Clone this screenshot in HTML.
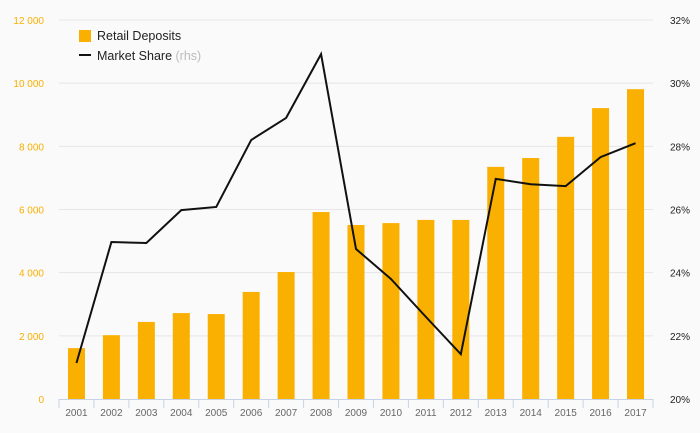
<!DOCTYPE html>
<html><head><meta charset="utf-8"><style>
body{margin:0;background:#fafafa;font-family:"Liberation Sans",sans-serif}
svg{display:block}
</style></head><body>
<svg id="c" width="700" height="433"></svg>
<script>
const years=["2001","2002","2003","2004","2005","2006","2007","2008","2009","2010","2011","2012","2013","2014","2015","2016","2017"];
const deposits=[1610,2020,2440,2720,2690,3390,4020,5920,5510,5570,5670,5670,7350,7630,8300,9210,9810];
const share=[21.14,24.97,24.94,25.98,26.08,28.2,28.9,30.92,24.75,23.8,22.6,21.42,26.97,26.8,26.74,27.66,28.1];
const leftTicks=[0,2000,4000,6000,8000,10000,12000];
const rightTicks=[20,22,24,26,28,30,32];
const NS="http://www.w3.org/2000/svg",svg=document.getElementById('c');
const x0=59,x1=653,yB=399,yT=20,bw=(x1-x0)/years.length;
const yL=v=>yB-(v/12000)*(yB-yT), yR=v=>yB-((v-20)/12)*(yB-yT), xC=i=>x0+bw*(i+0.5);
function mk(t,a,txt){const e=document.createElementNS(NS,t);for(const k in a)e.setAttribute(k,a[k]);if(txt!=null)e.textContent=txt;svg.appendChild(e);return e;}
const fmt=v=>v>=1000?Math.floor(v/1000)+" "+String(v%1000).padStart(3,"0"):String(v);
leftTicks.forEach((v,i)=>{
  if(v>0){const g=mk('line',{x1:x0,x2:x1,y1:yL(v),y2:yL(v),stroke:'#e6e6e6'});
  }
  const t=mk('text',{x:44,y:yL(v)+4,'text-anchor':'end','font-size':10,fill:'#f9b000'},fmt(v));
  
});
rightTicks.forEach(v=>{
  const t=mk('text',{x:690,y:yR(v)+4,'text-anchor':'end','font-size':10,fill:'#222'},v+"%");
  
});
deposits.forEach((v,i)=>{
  const r=mk('rect',{x:xC(i)-8.5,y:yL(v),width:17,height:yB-yL(v),fill:'#f9b000'});
  
});
const ax=mk('line',{x1:x0,x2:x1,y1:yB+0.5,y2:yB+0.5,stroke:'#c8d2e6'});

for(let i=0;i<=years.length;i++){const tk=mk('line',{x1:x0+bw*i,x2:x0+bw*i,y1:yB,y2:yB+9,stroke:'#c8d2e6'});
}
years.forEach((y,i)=>{const t=mk('text',{x:xC(i),y:416,'text-anchor':'middle','font-size':10,fill:'#666'},y);
});
const p=mk('polyline',{points:share.map((v,i)=>xC(i)+','+yR(v)).join(' '),fill:'none',stroke:'#111','stroke-width':2,'stroke-linejoin':'miter'});

const l1=mk('rect',{x:79,y:30,width:12,height:12,fill:'#f9b000'});

const t1=mk('text',{x:97,y:40,'font-size':12.5,fill:'#222'},'Retail Deposits');

const l2=mk('line',{x1:79,x2:91,y1:55,y2:55,stroke:'#111','stroke-width':2});

const t2=mk('text',{x:97,y:60,'font-size':12.5,fill:'#222'},'Market Share ');

const ts=document.createElementNS(NS,'tspan');ts.setAttribute('fill','#bbb');ts.textContent='(rhs)';t2.appendChild(ts);
</script>
</body></html>
